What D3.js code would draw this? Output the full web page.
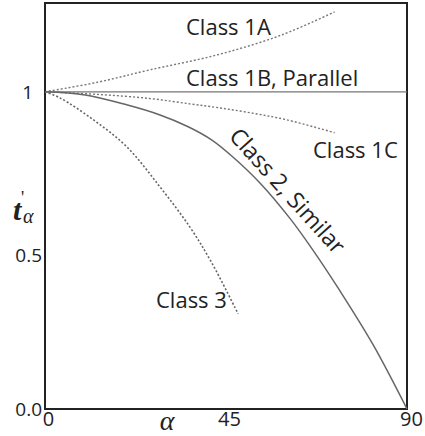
<!DOCTYPE html>
<html>
<head>
<meta charset="utf-8">
<script src="https://cdn.jsdelivr.net/npm/d3@7"></script>
<style>
  html, body { margin: 0; padding: 0; background: #fff; }
  svg { display: block; }
</style>
</head>
<body>
<svg id="chart" width="425" height="436"></svg>
<script>
// ---- data ----
const xTicks = [0, 45, 90];
const xTickLabels = ["0", "45", "90"];
const yTicks = [0, 0.5, 1];
const yTickLabels = ["0.0", "0.5", "1"];

const class1A_alpha = [0, 13, 26, 43, 59, 72];
const class1A_t     = [1, 1.03, 1.069, 1.117, 1.18, 1.252];

const class1B_alpha = [0, 90];
const class1B_t     = [1, 1];

const class1C_alpha = [0, 13, 26, 36, 43, 51, 60, 72];
const class1C_t     = [1, 0.992, 0.979, 0.962, 0.95, 0.934, 0.912, 0.871];

const class2_alpha = [0, 10, 20.3, 28.6, 35.6, 41.5, 46.5, 53.5, 60.9, 66.4, 73.3, 81.6, 90];
const class2_t     = [1, 0.99, 0.959, 0.927, 0.89, 0.848, 0.797, 0.712, 0.601, 0.505, 0.373, 0.202, 0];

const class3_alpha = [0, 3.7, 12, 20.3, 28.6, 36, 41.5, 48];
const class3_t     = [1, 0.981, 0.912, 0.827, 0.70, 0.574, 0.46, 0.30];

const seriesNames = ["Class 1A", "Class 1B, Parallel", "Class 1C", "Class 2, Similar", "Class 3"];

// ---- layout ----
const svg = d3.select("#chart");
const x = d3.scaleLinear().domain([0, 90]).range([45, 407]);
const y = d3.scaleLinear().domain([0, 1.28]).range([409, 3]);

const zip = (a, b) => a.map((v, i) => [v, b[i]]);
const line = d3.line().x(d => x(d[0])).y(d => y(d[1])).curve(d3.curveCatmullRom.alpha(0.5));

// frame
svg.append("rect")
  .attr("x", x(0)).attr("y", y(1.28))
  .attr("width", x(90) - x(0)).attr("height", y(0) - y(1.28))
  .attr("fill", "none").attr("stroke", "#222").attr("stroke-width", 2);

// curves
const curves = [
  { data: zip(class1A_alpha, class1A_t), dash: "2,2", color: "#777", w: 1.4 },
  { data: zip(class1B_alpha, class1B_t), dash: null, color: "#777", w: 1.3 },
  { data: zip(class1C_alpha, class1C_t), dash: "2,2", color: "#777", w: 1.4 },
  { data: zip(class2_alpha, class2_t), dash: null, color: "#666", w: 1.5 },
  { data: zip(class3_alpha, class3_t), dash: "2,2", color: "#666", w: 1.6 }
];
svg.append("g").selectAll("path").data(curves).join("path")
  .attr("d", d => line(d.data))
  .attr("fill", "none")
  .attr("stroke", d => d.color)
  .attr("stroke-width", d => d.w)
  .attr("stroke-dasharray", d => d.dash);

// axes
const yAxis = d3.axisLeft(y).tickValues(yTicks).tickSize(0).tickPadding(3)
  .tickFormat((d, i) => yTickLabels[i]);
const gy = svg.append("g").attr("transform", `translate(${x(0)},0)`).call(yAxis);
gy.select(".domain").remove();
gy.selectAll("text")
  .attr("font-family", "Open Sans, sans-serif").attr("font-size", 19).attr("fill", "#222")
  .attr("dx", (d, i) => i === 2 ? -9 : 0)
  .attr("dy", (d, i) => i === 1 ? "0.6em" : "0.35em");

const xAxis = d3.axisBottom(x).tickValues(xTicks).tickSize(0).tickPadding(3)
  .tickFormat((d, i) => xTickLabels[i]);
const gx = svg.append("g").attr("transform", `translate(0,${y(0)})`).call(xAxis);
gx.select(".domain").remove();
gx.selectAll("text")
  .attr("font-family", "Open Sans, sans-serif").attr("font-size", 20).attr("fill", "#222")
  .attr("dx", (d, i) => i === 0 ? 3 : (i === 2 ? 4 : 3));

// axis titles
svg.append("text").attr("x", 167).attr("y", 430).attr("text-anchor", "middle")
  .attr("font-family", "Liberation Serif, serif").attr("font-style", "italic")
  .attr("font-size", 28).attr("fill", "#222").text("α");

const yt = svg.append("g").attr("fill", "#222").attr("font-family", "Liberation Serif, serif");
yt.append("text").attr("x", 13).attr("y", 220).attr("font-style", "italic").attr("font-weight", "bold")
  .attr("font-size", 30).text("t");
yt.append("text").attr("x", 21).attr("y", 204).attr("font-size", 18).text("'");
yt.append("text").attr("x", 23).attr("y", 223).attr("font-style", "italic").attr("font-size", 20).text("α");

// series labels
const lab = svg.append("g").attr("font-family", "Open Sans, sans-serif").attr("font-size", 22).attr("fill", "#222");
lab.append("text").attr("x", 186).attr("y", 35).text(seriesNames[0]);
lab.append("text").attr("x", 186).attr("y", 86).text(seriesNames[1]);
lab.append("text").attr("x", 313).attr("y", 158).text(seriesNames[2]);
lab.append("text").attr("transform", "translate(228,137) rotate(48)").attr("font-size", 23).text(seriesNames[3]);
lab.append("text").attr("x", 156).attr("y", 308).text(seriesNames[4]);
</script>
</body>
</html>
